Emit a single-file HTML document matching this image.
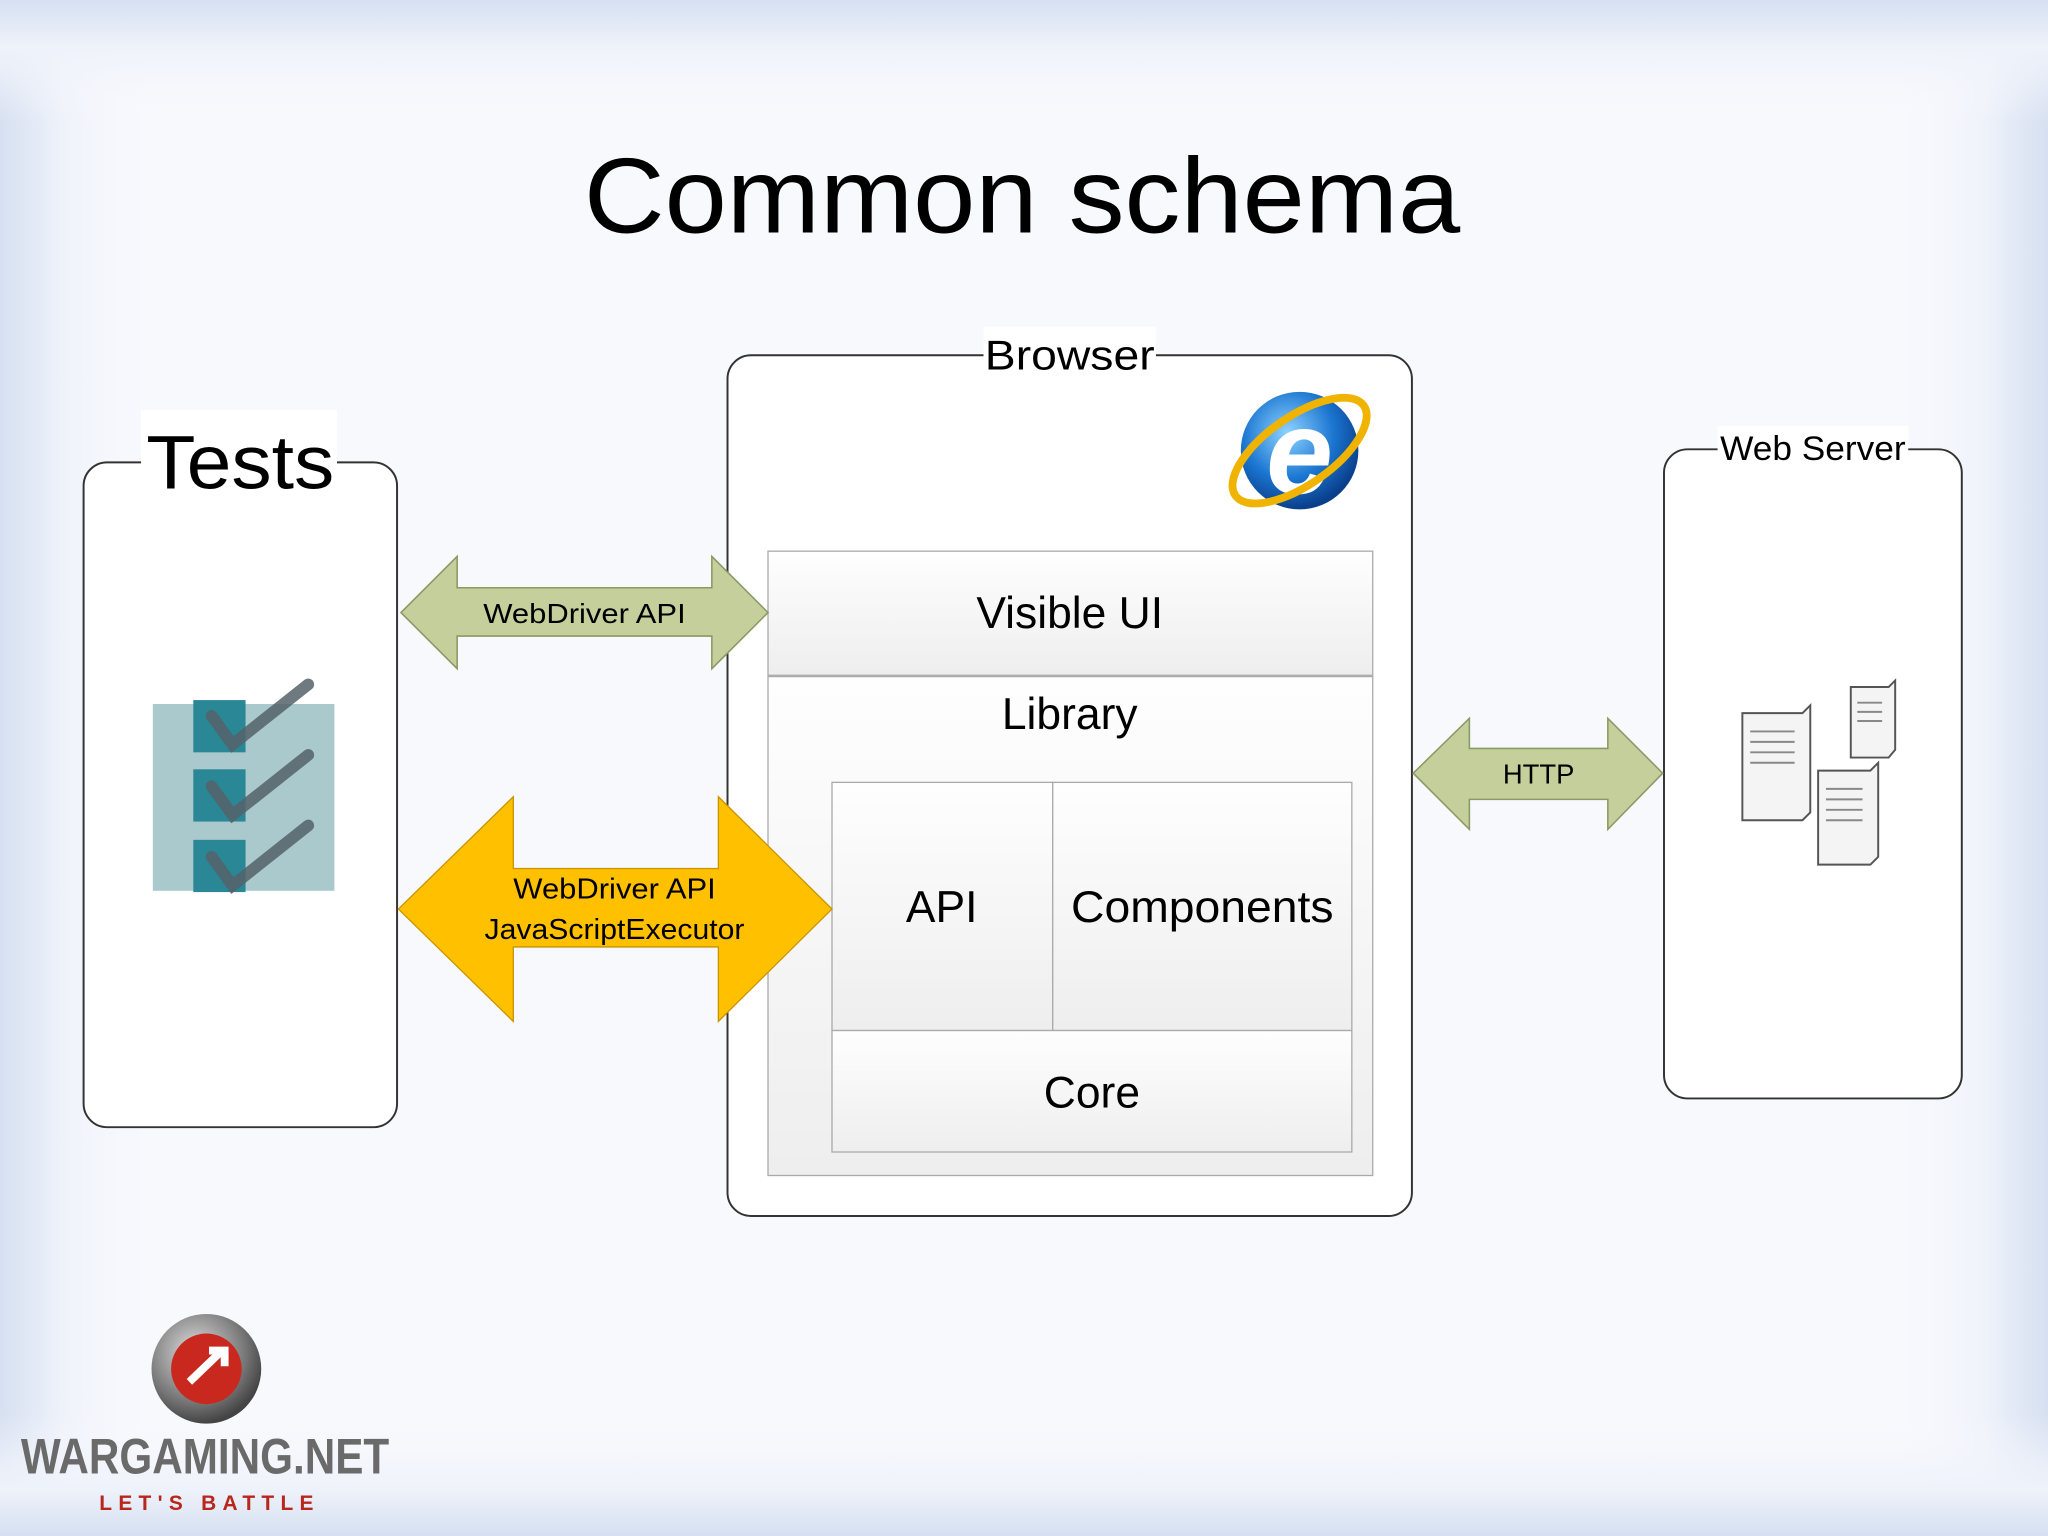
<!DOCTYPE html>
<html><head><meta charset="utf-8"><style>
html,body{margin:0;padding:0;width:2048px;height:1536px;overflow:hidden;background:#fff}
svg{display:block}
text{font-family:"Liberation Sans",sans-serif}
</style></head><body>
<svg width="2048" height="1536" viewBox="0 0 1568 1176" xmlns="http://www.w3.org/2000/svg">
<defs>
<linearGradient id="gx" x1="0" y1="0" x2="1" y2="0">
<stop offset="0" stop-color="#d6e0f1"/><stop offset="0.03" stop-color="#eef2fa"/><stop offset="0.08" stop-color="#f8f9fd" stop-opacity="0"/><stop offset="0.92" stop-color="#f8f9fd" stop-opacity="0"/><stop offset="0.97" stop-color="#eef2fa"/><stop offset="1" stop-color="#d6e0f1"/>
</linearGradient>
<linearGradient id="gy" x1="0" y1="0" x2="0" y2="1">
<stop offset="0" stop-color="#d6e0f1"/><stop offset="0.03" stop-color="#eef2fa"/><stop offset="0.08" stop-color="#f8f9fd" stop-opacity="0"/><stop offset="0.92" stop-color="#f8f9fd" stop-opacity="0"/><stop offset="0.97" stop-color="#eef2fa"/><stop offset="1" stop-color="#d6e0f1"/>
</linearGradient>
<linearGradient id="box" x1="0" y1="0" x2="0" y2="1"><stop offset="0" stop-color="#fefefe"/><stop offset="1" stop-color="#eeeeee"/></linearGradient>
<radialGradient id="ie" cx="40%" cy="35%" r="65%"><stop offset="0" stop-color="#8fd3ff"/><stop offset="0.6" stop-color="#1b76d1"/><stop offset="1" stop-color="#0a3f8c"/></radialGradient>
<radialGradient id="wg" cx="40%" cy="35%" r="65%"><stop offset="0" stop-color="#e0e0e0"/><stop offset="0.7" stop-color="#777"/><stop offset="1" stop-color="#444"/></radialGradient>
</defs>
<rect width="1568" height="1176" fill="#f8f9fd"/>
<rect width="1568" height="1176" fill="url(#gx)"/>
<rect width="1568" height="1176" fill="url(#gy)"/>
<text x="447" y="178" font-size="82" textLength="671" lengthAdjust="spacingAndGlyphs" fill="#000">Common schema</text>

<!-- Tests -->
<rect x="64" y="354" width="240" height="509" rx="18" fill="#fff" stroke="#333" stroke-width="1.5"/>
<rect x="108" y="314" width="150" height="68" fill="#fff"/>
<text x="112" y="374" font-size="58" textLength="144" lengthAdjust="spacingAndGlyphs">Tests</text>
<rect x="117" y="539" width="139" height="143" fill="#a9c9cd"/>
<g fill="#2a8796">
<rect x="148" y="536" width="40" height="40"/><rect x="148" y="589" width="40" height="40"/><rect x="148" y="643" width="40" height="40"/>
</g>
<g fill="none" stroke="#55626a" stroke-width="9" stroke-linecap="round" opacity="0.85">
<path d="M162 548 L178 570 L236 524"/><path d="M162 602 L178 624 L236 578"/><path d="M162 656 L178 678 L236 632"/>
</g>

<!-- Browser -->
<rect x="557" y="272" width="524" height="659" rx="18" fill="#fff" stroke="#333" stroke-width="1.5"/>
<rect x="753" y="250" width="132" height="42" fill="#fff"/>
<text x="754" y="283" font-size="32" textLength="130" lengthAdjust="spacingAndGlyphs">Browser</text>
<circle cx="995" cy="345" r="45" fill="url(#ie)"/>
<text x="995" y="378" font-size="92" font-weight="bold" text-anchor="middle" fill="#fff" font-style="italic">e</text>
<ellipse cx="995" cy="345" rx="60" ry="26" transform="rotate(-35 995 345)" fill="none" stroke="#f0b400" stroke-width="6"/>

<rect x="588" y="422" width="463" height="95" fill="url(#box)" stroke="#aaa"/>
<text x="819" y="481" font-size="34" text-anchor="middle">Visible UI</text>
<rect x="588" y="518" width="463" height="382" fill="url(#box)" stroke="#aaa"/>
<text x="819" y="558" font-size="34" text-anchor="middle">Library</text>
<rect x="637" y="599" width="169" height="190" fill="url(#box)" stroke="#aaa"/>
<rect x="806" y="599" width="229" height="190" fill="url(#box)" stroke="#aaa"/>
<rect x="637" y="789" width="398" height="93" fill="url(#box)" stroke="#aaa"/>
<text x="721" y="706" font-size="34" text-anchor="middle">API</text>
<text x="820" y="706" font-size="34" textLength="201" lengthAdjust="spacingAndGlyphs">Components</text>
<text x="836" y="848" font-size="34" text-anchor="middle">Core</text>

<!-- Web Server -->
<rect x="1274" y="344" width="228" height="497" rx="18" fill="#fff" stroke="#333" stroke-width="1.5"/>
<rect x="1315" y="326" width="146" height="34" fill="#fff"/>
<text x="1317" y="352" font-size="26" textLength="142" lengthAdjust="spacingAndGlyphs">Web Server</text>
<g fill="#f4f4f4" stroke="#555" stroke-width="1.5">
<path d="M1334 546 L1380 546 L1386 540 L1386 622 L1380 628 L1334 628 Z"/>
<path d="M1417 526 L1446 526 L1451 521 L1451 574 L1446 580 L1417 580 Z"/>
<path d="M1392 590 L1432 590 L1438 584 L1438 656 L1432 662 L1392 662 Z"/>
</g>
<g stroke="#888" stroke-width="1.5">
<line x1="1340" y1="560" x2="1374" y2="560"/><line x1="1340" y1="568" x2="1374" y2="568"/><line x1="1340" y1="576" x2="1374" y2="576"/><line x1="1340" y1="584" x2="1374" y2="584"/>
<line x1="1422" y1="538" x2="1441" y2="538"/><line x1="1422" y1="545" x2="1441" y2="545"/><line x1="1422" y1="552" x2="1441" y2="552"/>
<line x1="1398" y1="604" x2="1426" y2="604"/><line x1="1398" y1="612" x2="1426" y2="612"/><line x1="1398" y1="620" x2="1426" y2="620"/><line x1="1398" y1="628" x2="1426" y2="628"/>
</g>

<!-- arrows -->
<path d="M307 469 L350 426 L350 450 L545 450 L545 426 L588 469 L545 512 L545 487 L350 487 L350 512 Z" fill="#c4cf9c" stroke="#8a9a64" stroke-width="1.2"/>
<text x="370" y="477" font-size="21" textLength="155" lengthAdjust="spacingAndGlyphs">WebDriver API</text>
<path d="M305 696 L393 610 L393 665 L550 665 L550 610 L637 696 L550 782 L550 725 L393 725 L393 782 Z" fill="#ffc000" stroke="#c99400" stroke-width="1"/>
<text x="393" y="688" font-size="22" textLength="155" lengthAdjust="spacingAndGlyphs">WebDriver API</text>
<text x="371" y="719" font-size="22" textLength="199" lengthAdjust="spacingAndGlyphs">JavaScriptExecutor</text>
<path d="M1082 592 L1125 550 L1125 573 L1231 573 L1231 550 L1273 592 L1231 635 L1231 612 L1125 612 L1125 635 Z" fill="#c4cf9c" stroke="#8a9a64" stroke-width="1.2"/>
<text x="1178" y="600" font-size="21" text-anchor="middle">HTTP</text>

<!-- logo -->
<circle cx="158" cy="1048" r="42" fill="url(#wg)"/>
<circle cx="158" cy="1048" r="27" fill="#c8281e"/>
<path d="M145 1058 L170 1034 M160 1034 L172 1034 L172 1046" stroke="#fff" stroke-width="6" fill="none"/>
<text x="16" y="1128" font-size="38" font-weight="bold" textLength="282" lengthAdjust="spacingAndGlyphs" fill="#6a6a6a">WARGAMING.NET</text>
<text x="76" y="1156" font-size="16" font-weight="bold" textLength="164" lengthAdjust="spacing" fill="#b8261c">LET'S BATTLE</text>
</svg>
</body></html>
